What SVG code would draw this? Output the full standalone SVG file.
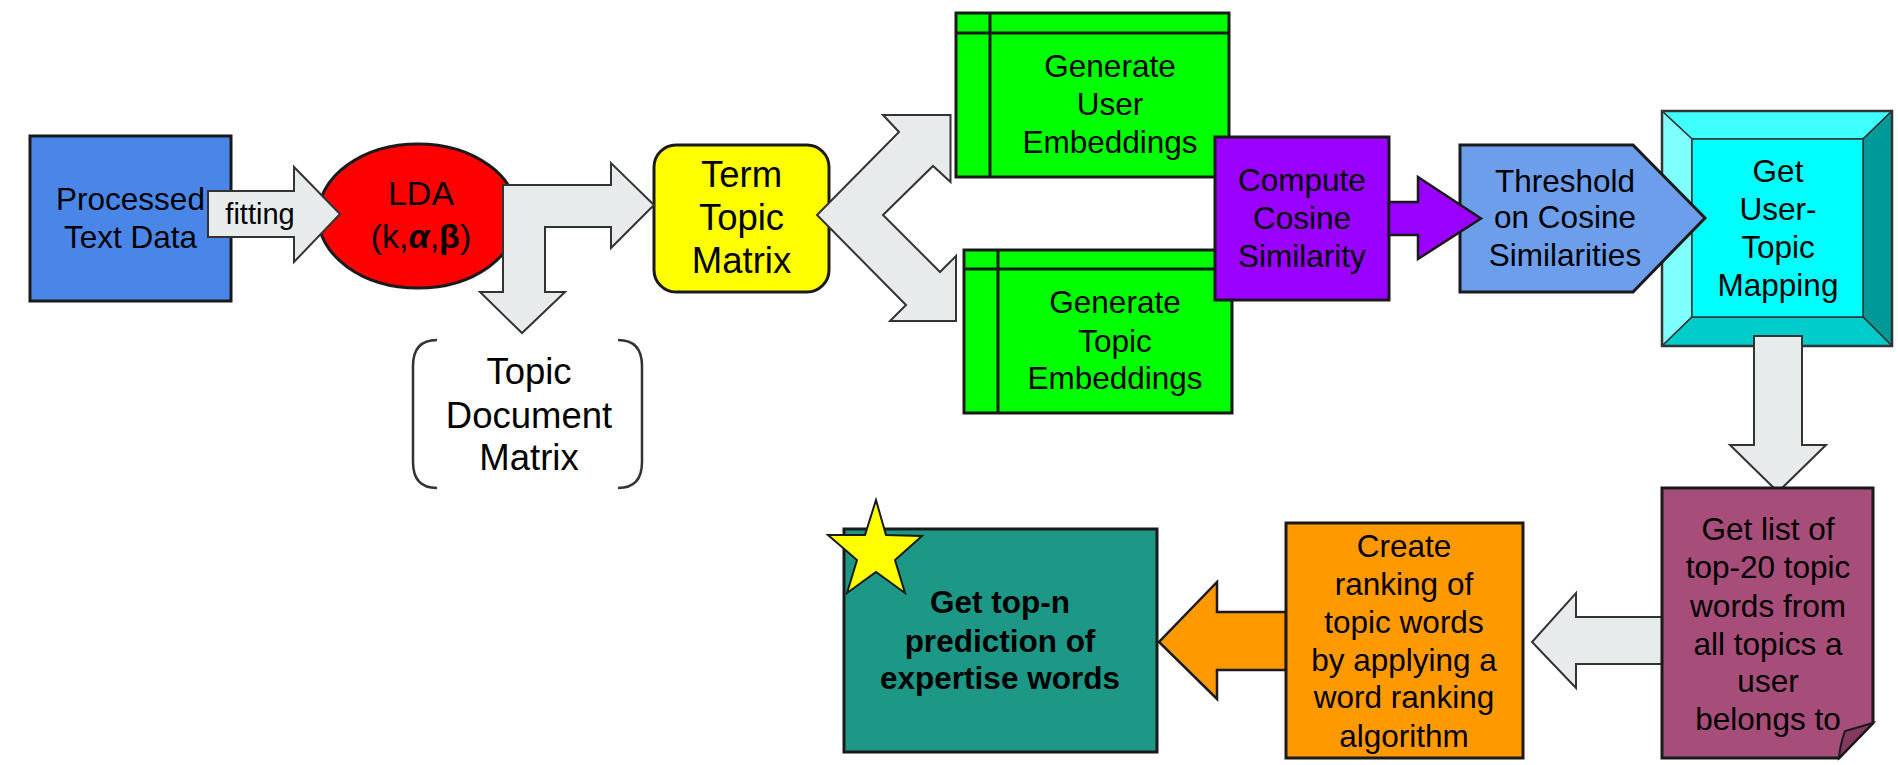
<svg xmlns="http://www.w3.org/2000/svg" width="1898" height="765" viewBox="0 0 1898 765">
<style>
text{font-family:"Liberation Sans",Arial,Helvetica,sans-serif;font-size:31.5px;text-anchor:middle;fill:#000}
.big{font-size:36.5px}
.lda{font-size:34px}
.fit{font-size:29px}
.bold{font-weight:bold}
.box{stroke:#1a1a1a;stroke-width:3}
.arr{fill:#e8ebec;stroke:#333;stroke-width:2;stroke-linejoin:miter}
.bev{stroke:#333;stroke-width:1.5;stroke-linejoin:round}
</style>
<rect width="1898" height="765" fill="#fff"/>

<g id="processed">
<rect class="box" x="30" y="136" width="201" height="165" fill="#4a86e8"/>
<text x="130.5" y="210">Processed</text>
<text x="130.5" y="248">Text Data</text>
</g>

<g id="lda">
<ellipse class="box" cx="418" cy="216" rx="100" ry="72" fill="#ff0000" stroke-width="2"/>
<text class="lda" x="421" y="205">LDA</text>
<text class="lda" x="421" y="248">(k,<tspan font-weight="bold" font-style="italic">α</tspan>,<tspan font-weight="bold">β</tspan>)</text>
</g>

<g id="term-topic">
<rect class="box" x="654" y="145" width="175" height="147" rx="22" ry="22" fill="#ffff00" stroke-width="2.5"/>
<text class="big" x="741.5" y="187">Term</text>
<text class="big" x="741.5" y="230">Topic</text>
<text class="big" x="741.5" y="273">Matrix</text>
</g>

<g id="topic-doc">
<path d="M437,340 Q413,340 413,366 L413,462 Q413,488 437,488 M618,340 Q642,340 642,366 L642,462 Q642,488 618,488" fill="none" stroke="#333" stroke-width="2.5"/>
<text class="big" x="529" y="384">Topic</text>
<text class="big" x="529" y="428">Document</text>
<text class="big" x="529" y="470">Matrix</text>
</g>

<g id="connectors">
<polygon class="arr" points="208,191 294,191 294,167 340,214 294,262 294,237 208,237"/>
<text class="fit" x="260" y="224">fitting</text>
<polygon class="arr" points="503,185 611,185 611,163 654,205 611,248 611,227 545,227 545,292 565,292 522,333 480,292 503,292"/>
<polygon class="arr" points="817,215 899,132 883,115 950.5,115 950.5,182 933,166 883,215 940,272 956,256 956,321 890,321 906,305"/>
</g>

<g id="user-emb">
<rect class="box" x="956" y="13" width="273" height="164" fill="#00ff00"/>
<path d="M990,13 V177 M956,33 H1229" stroke="#1a1a1a" stroke-width="3"/>
<text x="1110" y="77">Generate</text>
<text x="1110" y="115">User</text>
<text x="1110" y="153">Embeddings</text>
</g>

<g id="topic-emb">
<rect class="box" x="964" y="250" width="268" height="163" fill="#00ff00"/>
<path d="M998,250 V413 M964,269 H1232" stroke="#1a1a1a" stroke-width="3"/>
<text x="1115" y="313">Generate</text>
<text x="1115" y="352">Topic</text>
<text x="1115" y="389">Embeddings</text>
</g>

<g id="cosine">
<rect class="box" x="1215" y="137" width="174" height="163" fill="#9900ff"/>
<text x="1302" y="191">Compute</text>
<text x="1302" y="229">Cosine</text>
<text x="1302" y="267">Similarity</text>
</g>

<g id="mapping">
<polygon class="bev" points="1662,111 1892,111 1863,139 1692,139" fill="#40ffff"/>
<polygon class="bev" points="1662,111 1692,139 1692,317 1662,346" fill="#80ffff"/>
<polygon class="bev" points="1892,111 1892,346 1863,317 1863,139" fill="#009999"/>
<polygon class="bev" points="1662,346 1692,317 1863,317 1892,346" fill="#00cccc"/>
<rect class="bev" x="1692" y="139" width="171" height="178" fill="#00ffff"/>
<rect x="1662" y="111" width="230" height="235" fill="none" stroke="#333" stroke-width="2.5"/>
<text x="1778" y="182">Get</text>
<text x="1778" y="220">User-</text>
<text x="1778" y="258">Topic</text>
<text x="1778" y="296">Mapping</text>
</g>

<g id="threshold">
<polygon class="box" points="1460,145 1633,145 1705,218 1633,292 1460,292" fill="#6d9eeb" stroke-width="2.5"/>
<text x="1565" y="192">Threshold</text>
<text x="1565" y="228">on Cosine</text>
<text x="1565" y="266">Similarities</text>
</g>

<g id="connectors2">
<polygon points="1389,202 1418,202 1418,177 1481,218.5 1418,259 1418,235 1389,235" fill="#9900ff" stroke="#1a1a1a" stroke-width="2.5"/>
<polygon class="arr" points="1754,336 1802,336 1802,445 1826,445 1778,492 1730,445 1754,445"/>
<polygon class="arr" points="1664,617 1576,617 1576,593 1532,642 1576,688 1576,664 1664,664"/>
<polygon points="1286,612 1217,612 1217,582 1159,642 1217,699 1217,670 1286,670" fill="#ff9900" stroke="#1a1a1a" stroke-width="2.5"/>
</g>

<g id="top20">
<polygon class="box" points="1662,488 1873,488 1873,723 1839,758 1662,758" fill="#a64d79" stroke-width="2.5"/>
<path d="M1873,723 L1845,731 Q1840,745 1839,758 Z" fill="#85395e" stroke="#1a1a1a" stroke-width="2"/>
<text x="1768" y="540">Get list of</text>
<text x="1768" y="578">top-20 topic</text>
<text x="1768" y="617">words from</text>
<text x="1768" y="655">all topics a</text>
<text x="1768" y="692">user</text>
<text x="1768" y="730">belongs to</text>
</g>

<g id="ranking">
<rect class="box" x="1286" y="523" width="237" height="235" fill="#ff9900" stroke-width="2.5"/>
<text x="1404" y="557">Create</text>
<text x="1404" y="595">ranking of</text>
<text x="1404" y="633">topic words</text>
<text x="1404" y="671">by applying a</text>
<text x="1404" y="708">word ranking</text>
<text x="1404" y="747">algorithm</text>
</g>

<g id="prediction">
<rect class="box" x="844" y="529" width="313" height="223" fill="#1d9886" stroke-width="3.5"/>
<text class="bold" x="1000" y="613">Get top-n</text>
<text class="bold" x="1000" y="652">prediction of</text>
<text class="bold" x="1000" y="689">expertise words</text>
<polygon points="876,500 886,535 922,536 895,560 905,593 876,572 847,593 857,560 828,535 865,535" fill="#ffff00" stroke="#1a1a1a" stroke-width="2" stroke-linejoin="miter"/>
</g>
</svg>
